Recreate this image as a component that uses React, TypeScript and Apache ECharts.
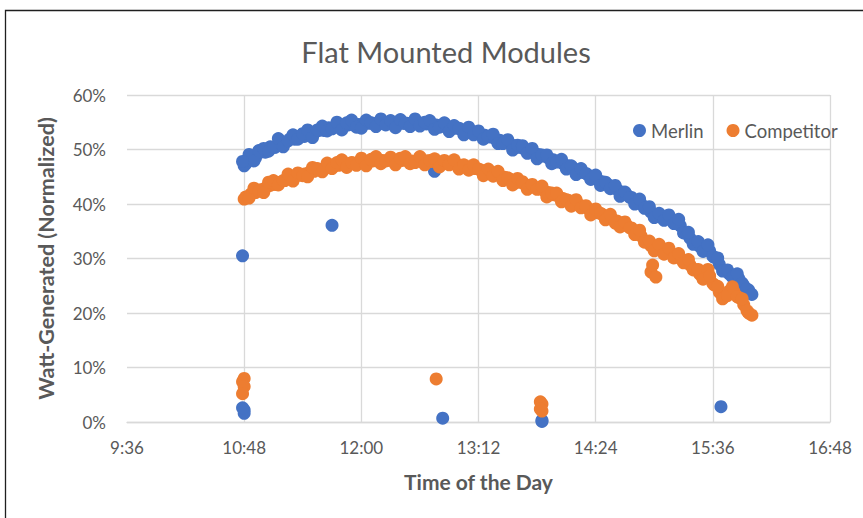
import React, { useEffect, useRef } from "react";
import * as echarts from "echarts";

const chartTitle = "Flat Mounted Modules";
const xAxisTitle = "Time of the Day";
const yAxisTitle = "Watt-Generated (Normalized)";
const seriesNames = ["Merlin", "Competitor"];

// x-axis: minutes after midnight, 9:36 to 16:48 in 72-minute steps
const xMin = 576;
const xMax = 1008;
const xStep = 72;
const yTicks = [0, 10, 20, 30, 40, 50, 60];

const times = [
  "10:48", "10:51", "10:54", "10:57", "11:00", "11:03", "11:06", "11:09",
  "11:12", "11:15", "11:18", "11:21", "11:24", "11:27", "11:30", "11:33",
  "11:36", "11:39", "11:42", "11:45", "11:48", "11:51", "11:54", "11:57",
  "12:00", "12:03", "12:06", "12:09", "12:12", "12:15", "12:18", "12:21",
  "12:24", "12:27", "12:30", "12:33", "12:36", "12:39", "12:42", "12:45",
  "12:48", "12:51", "12:54", "12:57", "13:00", "13:03", "13:06", "13:09",
  "13:12", "13:15", "13:18", "13:21", "13:24", "13:27", "13:30", "13:33",
  "13:36", "13:39", "13:42", "13:45", "13:48", "13:51", "13:54", "13:57",
  "14:00", "14:03", "14:06", "14:09", "14:12", "14:15", "14:18", "14:21",
  "14:24", "14:27", "14:30", "14:33", "14:36", "14:39", "14:42", "14:45",
  "14:48", "14:51", "14:54", "14:57", "15:00", "15:03", "15:06", "15:09",
  "15:12", "15:15", "15:18", "15:21", "15:24", "15:27", "15:30", "15:33",
  "15:36", "15:39", "15:42", "15:45", "15:48", "15:51", "15:54", "15:57",
];

const merlin = [
  47.0, 49.1, 47.9, 49.8, 50.2, 49.7, 50.4, 52.0,
  50.5, 51.6, 52.7, 51.9, 52.9, 53.6, 52.2, 53.6,
  54.3, 53.4, 53.8, 55.0, 53.6, 54.9, 55.4, 54.1,
  53.9, 55.4, 54.9, 54.2, 55.6, 54.5, 55.3, 54.0,
  55.5, 54.8, 54.2, 55.6, 54.3, 55.0, 55.3, 53.7,
  54.1, 54.9, 53.3, 54.4, 53.9, 52.7, 54.1, 52.7,
  53.4, 51.9, 52.4, 52.8, 51.1, 51.1, 51.8, 49.9,
  50.8, 50.7, 49.3, 50.2, 48.3, 49.0, 49.0, 47.4,
  47.7, 48.2, 46.4, 47.0, 45.4, 46.5, 45.6, 44.5,
  45.3, 43.4, 44.0, 42.8, 43.4, 41.4, 42.2, 41.2,
  40.0, 40.9, 39.2, 39.5, 37.5, 38.3, 37.0, 38.0,
  36.4, 37.2, 34.7, 34.8, 32.6, 33.1, 31.3, 32.5,
  30.4, 30.1, 27.7, 27.9, 26.6, 27.2, 25.5, 24.4,
];

// readings logged one minute after each of the times above
const merlinMid = [
  47.4, 48.3, 48.5, 49.5, 49.5, 50.5, 50.4, 51.3,
  51.2, 51.9, 51.9, 52.4, 52.4, 53.0, 53.0, 53.5,
  53.5, 54.0, 54.0, 54.3, 54.3, 54.5, 54.6, 54.6,
  54.7, 54.8, 54.8, 54.8, 54.8, 54.8, 54.8, 54.8,
  54.8, 54.8, 54.8, 54.8, 54.7, 54.7, 54.6, 54.5,
  54.3, 54.2, 54.0, 53.9, 53.7, 53.5, 53.3, 53.1,
  52.8, 52.6, 52.3, 52.0, 51.7, 51.4, 51.1, 50.7,
  50.4, 50.1, 49.8, 49.4, 49.1, 48.8, 48.4, 48.1,
  47.8, 47.4, 47.0, 46.6, 46.2, 45.8, 45.4, 45.0,
  44.5, 44.1, 43.7, 43.2, 42.7, 42.2, 41.7, 41.2,
  40.5, 40.0, 39.3, 38.5, 37.9, 37.6, 37.5, 37.2,
  36.8, 36.0, 34.7, 33.7, 32.8, 32.2, 31.9, 31.4,
  30.2, 28.9, 27.8, 27.2, 26.9, 26.3, 25.0, 24.2,
];

const competitor = [
  40.9, 41.1, 42.9, 42.4, 42.1, 44.0, 44.3, 43.5,
  44.3, 45.5, 44.2, 45.7, 45.2, 45.0, 46.7, 46.5,
  45.9, 47.5, 46.5, 47.6, 48.1, 46.7, 47.6, 47.1,
  48.4, 47.0, 48.2, 48.7, 47.4, 47.9, 48.6, 47.2,
  48.4, 48.7, 47.4, 47.6, 48.7, 47.2, 48.0, 48.3,
  46.8, 48.0, 47.2, 48.1, 46.4, 47.2, 46.2, 47.2,
  46.4, 45.2, 46.4, 45.1, 46.0, 44.3, 44.8, 43.5,
  44.7, 44.1, 42.7, 43.6, 42.7, 43.3, 41.3, 42.0,
  42.0, 40.4, 40.8, 39.6, 40.8, 39.3, 39.7, 38.0,
  39.1, 38.3, 37.1, 38.1, 36.5, 35.8, 36.7, 35.6,
  34.4, 35.2, 33.0, 33.2, 31.4, 32.6, 30.8, 31.9,
  30.1, 30.9, 29.2, 29.8, 27.9, 28.0, 26.2, 28.0,
  25.4, 24.9, 22.6, 23.2, 24.8, 23.0, 22.6, 20.4,
];

const competitorMid = [
  41.3, 41.8, 42.1, 42.6, 42.9, 43.4, 43.6, 44.0,
  44.3, 44.7, 44.9, 45.3, 45.5, 45.8, 46.0, 46.3,
  46.5, 46.7, 46.9, 47.1, 47.3, 47.4, 47.5, 47.6,
  47.7, 47.8, 47.9, 47.9, 48.0, 48.0, 48.0, 48.0,
  48.0, 48.0, 47.9, 47.9, 47.9, 47.9, 47.8, 47.7,
  47.6, 47.5, 47.4, 47.3, 47.1, 46.9, 46.7, 46.5,
  46.3, 46.0, 45.8, 45.5, 45.2, 44.9, 44.6, 44.3,
  44.0, 43.7, 43.4, 43.1, 42.8, 42.5, 42.1, 41.7,
  41.4, 41.0, 40.7, 40.3, 40.0, 39.6, 39.2, 38.8,
  38.4, 38.1, 37.7, 37.3, 36.9, 36.5, 36.1, 35.6,
  34.8, 34.1, 33.1, 32.3, 32.0, 31.7, 31.3, 31.0,
  30.5, 30.0, 29.5, 28.8, 28.0, 27.1, 27.1, 26.7,
  25.1, 23.8, 22.9, 24.0, 23.9, 22.8, 21.5, 20.0,
];

// readings away from the main band
const merlinExtraTimes = ["10:47", "10:48", "10:48", "10:47", "10:47", "11:42", "12:45", "12:50", "13:51", "13:51", "15:41", "16:00"];
const merlinExtraValues = [30.5, 2.2, 1.6, 2.6, 47.8, 36.1, 46.0, 0.7, 0.1, 0.3, 2.8, 23.4];

const competitorExtraTimes = ["10:47", "10:48", "10:48", "10:47", "12:46", "13:50", "13:51", "13:50", "13:51", "14:58", "14:59", "15:01", "15:34", "16:00"];
const competitorExtraValues = [7.4, 8.0, 6.5, 5.2, 7.9, 3.7, 3.3, 2.4, 2.0, 27.5, 28.8, 26.6, 26.8, 19.6];

const colors = ["#4472C4", "#ED7D31"];
const textColor = "#595959";
const gridColor = "#D9D9D9";
const fontFamily = "Lato, 'Noto Sans', sans-serif";

const toMin = (s: string) => {
  const [h, m] = s.split(":").map(Number);
  return h * 60 + m;
};
const fmtTime = (v: number) => `${Math.floor(v / 60)}:${String(v % 60).padStart(2, "0")}`;

export default function App() {
  const ref = useRef<HTMLDivElement>(null);
  useEffect(() => {
    if (!ref.current) return;
    const chart = echarts.init(ref.current, undefined, { renderer: "svg" });
    const merlinData = times
      .map((t, i) => [toMin(t) + 1, merlinMid[i]])
      .concat(times.map((t, i) => [toMin(t), merlin[i]]))
      .concat(merlinExtraTimes.map((t, i) => [toMin(t), merlinExtraValues[i]]));
    const compData = times
      .map((t, i) => [toMin(t) + 1, competitorMid[i]])
      .concat(times.map((t, i) => [toMin(t), competitor[i]]))
      .concat(competitorExtraTimes.map((t, i) => [toMin(t), competitorExtraValues[i]]));
    chart.setOption({
      animation: false,
      backgroundColor: "#ffffff",
      textStyle: { fontFamily },
      title: {
        text: chartTitle,
        left: 441,
        top: 32,
        textAlign: "center",
        textStyle: { fontFamily, fontSize: 29, fontWeight: 400, color: textColor },
      },
      legend: {
        data: seriesNames,
        left: 628,
        top: 116,
        icon: "circle",
        itemWidth: 13,
        itemHeight: 13,
        itemGap: 23,
        textStyle: { fontFamily, fontSize: 18.5, color: textColor },
      },
      graphic: [
        {
          type: "rect",
          silent: true,
          shape: { x: 5.5, y: 10.5, width: 1000, height: 1000 },
          style: { fill: "none", stroke: "#1f1f1f", lineWidth: 1.3 },
        },
      ],
      grid: { left: 127, right: 33, top: 95, bottom: 96, containLabel: false },
      xAxis: {
        type: "value",
        min: xMin,
        max: xMax,
        interval: xStep,
        name: xAxisTitle,
        nameLocation: "middle",
        nameGap: 49,
        nameTextStyle: { fontFamily, fontSize: 21, fontWeight: "bold", color: textColor },
        axisLine: { show: true, onZero: false, lineStyle: { color: gridColor, width: 1.3 } },
        axisTick: { show: false },
        axisLabel: { formatter: (v: number) => fmtTime(v), fontSize: 17, color: textColor, margin: 17, fontFamily },
        splitLine: { show: true, showMinLine: false, lineStyle: { color: gridColor, width: 1.3 } },
      },
      yAxis: {
        type: "value",
        min: yTicks[0],
        max: yTicks[yTicks.length - 1],
        interval: 10,
        name: yAxisTitle,
        nameLocation: "middle",
        nameGap: 70,
        nameTextStyle: { fontFamily, fontSize: 21.5, fontWeight: "bold", color: textColor },
        axisLine: { show: false },
        axisTick: { show: false },
        axisLabel: { formatter: "{value}%", fontSize: 17, color: textColor, margin: 21, fontFamily },
        splitLine: { show: true, lineStyle: { color: gridColor, width: 1.3 } },
      },
      series: [
        {
          name: seriesNames[0],
          type: "scatter",
          data: merlinData,
          symbol: "circle",
          symbolSize: 13,
          itemStyle: { color: colors[0], opacity: 1 },
        },
        {
          name: seriesNames[1],
          type: "scatter",
          data: compData,
          symbol: "circle",
          symbolSize: 13,
          itemStyle: { color: colors[1], opacity: 1 },
        },
      ],
    });
    return () => chart.dispose();
  }, []);
  return (
    <div
      ref={ref}
      style={{ position: "fixed", left: 0, top: 0, width: 863, height: 518, background: "#fff" }}
    />
  );
}
